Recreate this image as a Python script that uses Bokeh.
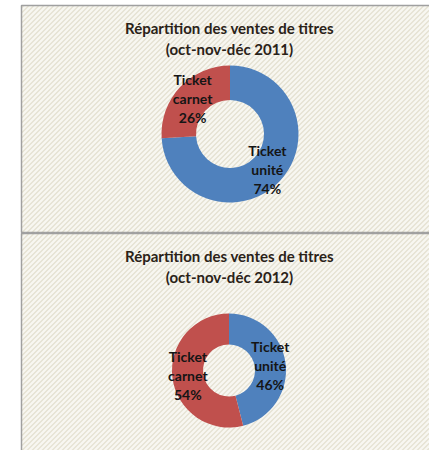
import numpy as np
from bokeh.plotting import figure
from bokeh.models import Range1d, ColumnDataSource
from bokeh.core.properties import value
from bokeh.embed import file_html
from bokeh.resources import INLINE

# ---- data ----
categories = ["Ticket unité", "Ticket carnet"]
colors = ["#4F81BD", "#C0504D"]
shares_2011 = [74, 26]
shares_2012 = [46, 54]
title_line1 = "Répartition des ventes de titres"
titles_line2 = ["(oct-nov-déc 2011)", "(oct-nov-déc 2012)"]

W, H = 429, 450
p = figure(width=W, height=H, output_backend="svg", toolbar_location=None,
           x_range=Range1d(0, W), y_range=Range1d(0, H), min_border=0)
p.axis.visible = False
p.grid.visible = False
p.outline_line_color = None
p.background_fill_color = "white"
p.border_fill_color = "white"

def py(y):
    return H - y

# panels (chart areas) with diagonal-stripe background
panels = [(5, 232), (233, 460)]
for top, bottom in panels:
    x0, x1 = 21, W + 5
    y0, y1 = py(bottom), py(top)
    p.quad(left=x0, right=x1, top=y1, bottom=y0,
           fill_color="#E5E2D2", line_color=None)
    # stripes y = x + b, clipped to the panel
    bs = np.arange(y0 - x1, y1 - x0, 5.0)
    xa = np.maximum(x0, y0 - bs)
    xb = np.minimum(x1, y1 - bs)
    ok = xb > xa
    xa, xb, bs = xa[ok], xb[ok], bs[ok]
    p.segment(x0=xa, y0=xa + bs, x1=xb, y1=xb + bs,
              line_color="#F8F7F2", line_width=2.2)
    p.quad(left=x0, right=x1, top=y1, bottom=y0,
           fill_color=None, line_color="#A0A0A0", line_width=1.5)

font = value("Lato")

charts = [
    dict(shares=shares_2011, sub=titles_line2[0], cx=229.5, cy=133.5, r_out=68.5, r_in=34, ty=27),
    dict(shares=shares_2012, sub=titles_line2[1], cx=228.5, cy=370, r_out=57, r_in=26, ty=255),
]

for c in charts:
    vals = np.array(c["shares"], dtype=float)
    frac = vals / vals.sum()
    cum_end = np.cumsum(frac)
    cum_start = cum_end - frac
    start = np.pi / 2 - 2 * np.pi * cum_end
    end = np.pi / 2 - 2 * np.pi * cum_start
    mid = (start + end) / 2
    r_mid = (c["r_out"] + c["r_in"]) / 2
    cx, cy = c["cx"], py(c["cy"])
    src = ColumnDataSource(dict(
        start=start, end=end, color=colors,
        lx=cx + r_mid * np.cos(mid), ly=cy + r_mid * np.sin(mid),
        label=[f"{n.replace(' ', chr(10))}\n{int(v)}%" for n, v in zip(categories, vals)],
    ))
    p.annular_wedge(x=cx, y=cy, inner_radius=c["r_in"], outer_radius=c["r_out"],
                    start_angle="start", end_angle="end", fill_color="color",
                    line_color=None, source=src)
    p.text(x="lx", y="ly", text="label", source=src, text_align="center",
           text_baseline="middle", text_font=font, text_font_style="bold",
           text_font_size="14px", text_color="#151515", text_line_height=1.12)
    p.text(x=[229], y=[py(c["ty"])], text=[title_line1], text_align="center",
           text_baseline="middle", text_font=font, text_font_style="bold",
           text_font_size="15px", text_color="#2A2218")
    p.text(x=[229], y=[py(c["ty"] + 21)], text=[c["sub"]], text_align="center",
           text_baseline="middle", text_font=font, text_font_style="bold",
           text_font_size="15px", text_color="#2A2218")

open("out.html", "w").write(file_html(p, INLINE))
